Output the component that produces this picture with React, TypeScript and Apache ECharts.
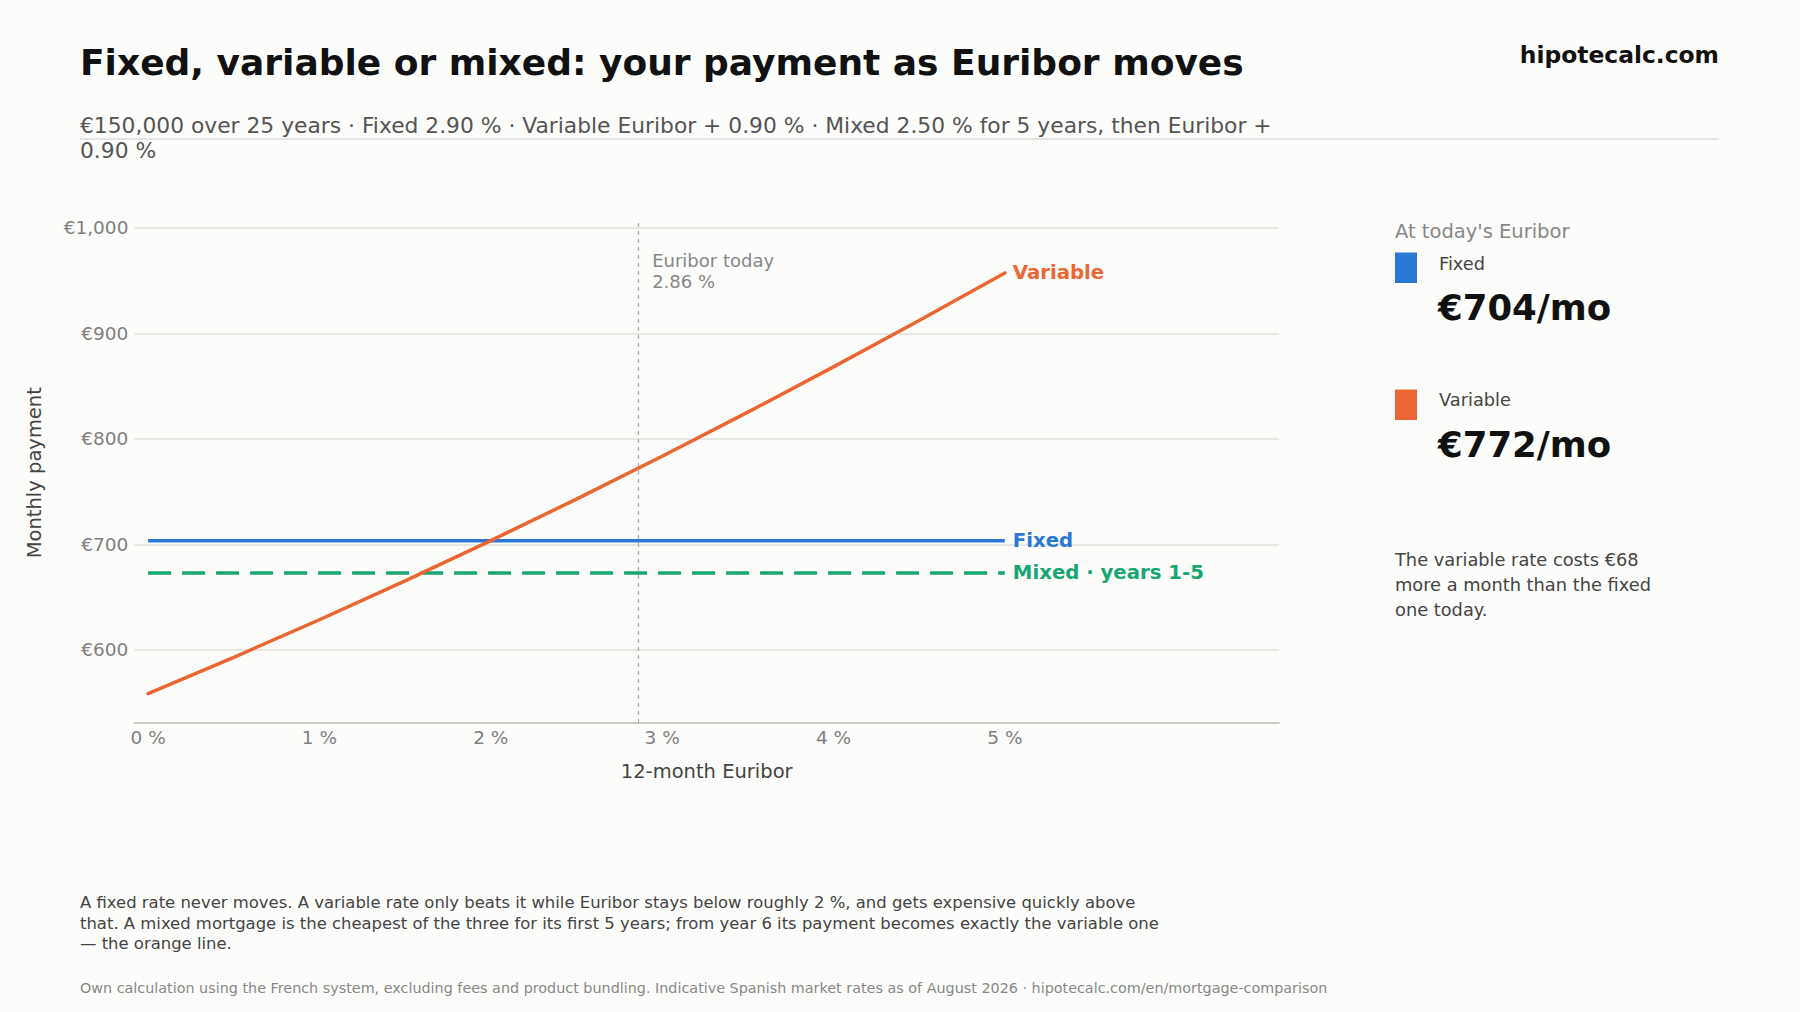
import React, { useEffect, useRef } from "react";
import * as echarts from "echarts";

// ---- data ----
const euriborPoints = [0, 0.5, 1, 1.5, 2, 2.5, 3, 3.5, 4, 4.5, 5];
const variablePayment = [558.5, 592.9, 628.5, 665.4, 703.5, 742.9, 783.5, 825.3, 868.2, 912.2, 957.3];
const fixedPayment = [703.5, 703.5];
const mixedPayment = [672.9, 672.9];
const flatRange = [0, 5];
const xTicks = [0, 1, 2, 3, 4, 5];
const yTicks = [600, 700, 800, 900, 1000];
const euriborToday = 2.86;
const todayFixed = 704;
const todayVariable = 772;
const todayDiff = 68;

const FONT = "DejaVu Sans";
const BLUE = "#2A78D6";
const ORANGE = "#EB6633";
const GREEN = "#17A673";

export default function App() {
  const ref = useRef<HTMLDivElement>(null);
  useEffect(() => {
    document.body.style.margin = "0";
    const chart = echarts.init(ref.current!, null, { renderer: "svg" });
    const variableData = euriborPoints.map((x, i) => [x, variablePayment[i]]);
    const fixedData = flatRange.map((x, i) => [x, fixedPayment[i]]);
    const mixedData = flatRange.map((x, i) => [x, mixedPayment[i]]);
    const endLabel = (text: string, color: string) => ({
      show: true,
      formatter: text,
      color,
      fontFamily: FONT,
      fontWeight: "bold",
      fontSize: 19.7,
      distance: 8,
    });
    const option: any = {
      animation: false,
      backgroundColor: "#FCFCFA",
      textStyle: { fontFamily: FONT },
      grid: { left: 134.4, right: 521, top: 222.4, height: 500.6, containLabel: false },
      xAxis: {
        type: "value",
        min: -0.08,
        max: 6.6,
        name: "12-month Euribor",
        nameLocation: "middle",
        nameGap: 38,
        nameTextStyle: { color: "#444", fontSize: 19.5, fontFamily: FONT },
        axisLine: { show: true, lineStyle: { color: "#BDBDB8", width: 1.5 } },
        axisTick: { show: false, customValues: xTicks },
        axisLabel: {
          customValues: xTicks,
          formatter: (v: number) => `${v} %`,
          color: "#808080",
          fontSize: 18.5,
          fontFamily: FONT,
          margin: 5,
        },
        splitLine: { show: false },
      },
      yAxis: {
        type: "value",
        min: 530.6,
        max: 1005.2,
        name: "Monthly payment",
        nameLocation: "middle",
        nameGap: 90,
        nameRotate: 90,
        nameTextStyle: { color: "#444", fontSize: 19.5, fontFamily: FONT },
        axisLine: { show: false },
        axisTick: { show: false, customValues: yTicks },
        axisLabel: {
          customValues: yTicks,
          formatter: (v: number) => "€" + v.toLocaleString("en-US"),
          color: "#808080",
          fontSize: 18.5,
          fontFamily: FONT,
          margin: 6,
        },
        splitLine: { show: true, lineStyle: { color: "#E0E0DD", width: 1.5 } },
      },
      series: [
        {
          type: "line",
          data: mixedData,
          symbol: "none",
          lineStyle: { color: GREEN, width: 3.5, type: [23, 11] },
          endLabel: endLabel("Mixed · years 1-5", GREEN),
          z: 3,
        },
        {
          type: "line",
          data: fixedData,
          symbol: "none",
          lineStyle: { color: BLUE, width: 3.5 },
          endLabel: endLabel("Fixed", BLUE),
          z: 4,
        },
        {
          type: "line",
          data: variableData,
          symbol: "none",
          lineStyle: { color: ORANGE, width: 3.5, cap: "round" },
          endLabel: endLabel("Variable", ORANGE),
          z: 5,
          markLine: {
            silent: true,
            symbol: "none",
            lineStyle: { color: "#A8A8A8", width: 1.2, type: [4, 4] },
            label: { show: false },
            data: [{ xAxis: euriborToday }],
          },
          markPoint: {
            silent: true,
            symbol: "circle",
            symbolSize: 0,
            data: [
              {
                coord: [euriborToday, 959],
                label: {
                  show: true,
                  position: "right",
                  distance: 14,
                  formatter: `Euribor today\n${euriborToday.toFixed(2)} %`,
                  color: "#888",
                  fontSize: 18,
                  lineHeight: 21,
                  fontFamily: FONT,
                  align: "left",
                },
              },
            ],
          },
        },
      ],
      graphic: [
        {
          type: "text",
          x: 80,
          y: 62,
          style: {
            text: "Fixed, variable or mixed: your payment as Euribor moves",
            fontFamily: FONT,
            fontWeight: "bold",
            fontSize: 36,
            fill: "#111",
            align: "left",
            verticalAlign: "middle",
          },
        },
        {
          type: "text",
          x: 1719,
          y: 55,
          style: {
            text: "hipotecalc.com",
            fontFamily: FONT,
            fontWeight: "bold",
            fontSize: 23.4,
            fill: "#111",
            align: "right",
            verticalAlign: "middle",
          },
        },
        {
          type: "text",
          x: 80,
          y: 138,
          style: {
            text:
              "€150,000 over 25 years · Fixed 2.90 % · Variable Euribor + 0.90 % · Mixed 2.50 % for 5 years, then Euribor +\n0.90 %",
            fontFamily: FONT,
            fontSize: 21.8,
            lineHeight: 25.5,
            fill: "#555",
            align: "left",
            verticalAlign: "middle",
          },
        },
        {
          type: "line",
          shape: { x1: 80, y1: 139, x2: 1719, y2: 139 },
          style: { stroke: "#DCDCDA", lineWidth: 1.5 },
        },
        {
          type: "text",
          x: 1395,
          y: 231,
          style: {
            text: "At today's Euribor",
            fontFamily: FONT,
            fontSize: 19.5,
            fill: "#888",
            align: "left",
            verticalAlign: "middle",
          },
        },
        { type: "rect", shape: { x: 1395, y: 252.5, width: 22, height: 30.5 }, style: { fill: BLUE } },
        {
          type: "text",
          x: 1439,
          y: 263,
          style: { text: "Fixed", fontFamily: FONT, fontSize: 17.8, fill: "#444", align: "left", verticalAlign: "middle" },
        },
        {
          type: "text",
          x: 1438,
          y: 307,
          style: {
            text: `€${todayFixed}/mo`,
            fontFamily: FONT,
            fontWeight: "bold",
            fontSize: 35.5,
            fill: "#111",
            align: "left",
            verticalAlign: "middle",
          },
        },
        { type: "rect", shape: { x: 1395, y: 389.5, width: 22, height: 30.5 }, style: { fill: ORANGE } },
        {
          type: "text",
          x: 1439,
          y: 399.5,
          style: { text: "Variable", fontFamily: FONT, fontSize: 17.8, fill: "#444", align: "left", verticalAlign: "middle" },
        },
        {
          type: "text",
          x: 1438,
          y: 444,
          style: {
            text: `€${todayVariable}/mo`,
            fontFamily: FONT,
            fontWeight: "bold",
            fontSize: 35.5,
            fill: "#111",
            align: "left",
            verticalAlign: "middle",
          },
        },
        {
          type: "text",
          x: 1395,
          y: 584.5,
          style: {
            text: `The variable rate costs €${todayDiff}\nmore a month than the fixed\none today.`,
            fontFamily: FONT,
            fontSize: 17.8,
            lineHeight: 25,
            fill: "#444",
            align: "left",
            verticalAlign: "middle",
          },
        },
        {
          type: "text",
          x: 80,
          y: 923,
          style: {
            text:
              "A fixed rate never moves. A variable rate only beats it while Euribor stays below roughly 2 %, and gets expensive quickly above\nthat. A mixed mortgage is the cheapest of the three for its first 5 years; from year 6 its payment becomes exactly the variable one\n— the orange line.",
            fontFamily: FONT,
            fontSize: 16.45,
            lineHeight: 20.8,
            fill: "#444",
            align: "left",
            verticalAlign: "middle",
          },
        },
        {
          type: "text",
          x: 80,
          y: 988,
          style: {
            text:
              "Own calculation using the French system, excluding fees and product bundling. Indicative Spanish market rates as of August 2026 · hipotecalc.com/en/mortgage-comparison",
            fontFamily: FONT,
            fontSize: 14.35,
            fill: "#888",
            align: "left",
            verticalAlign: "middle",
          },
        },
      ],
    };
    chart.setOption(option);
    return () => chart.dispose();
  }, []);
  return (
    <div
      ref={ref}
      style={{ position: "absolute", left: 0, top: 0, width: 1800, height: 1012 }}
    />
  );
}
